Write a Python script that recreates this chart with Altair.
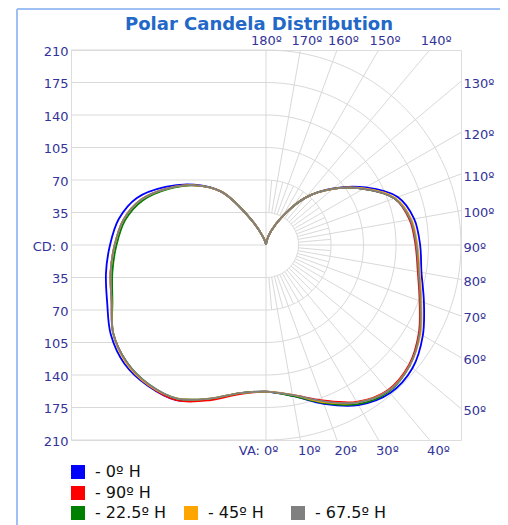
import altair as alt
import numpy as np
import pandas as pd

# ---------------- data ----------------
angles = [0, 10, 20, 30, 40, 50, 60, 70, 80, 90, 100, 110, 120, 130, 140, 150, 160, 170, 180]

series_names = ["- 0º H", "- 90º H", "- 22.5º H", "- 45º H", "- 67.5º H"]
series_colors = ["#0000ff", "#ff0000", "#008000", "#ffa500", "#808080"]

# candela, right half of the plot (vertical angle from nadir)
cd_right_0 = [158, 165, 182, 199, 208, 206, 195, 181, 170, 166, 162, 151, 124, 95, 67, 36, 16, 5, 0]
cd_right_90 = [158, 164, 178, 195, 204, 201, 190, 176, 166, 161, 157, 147, 121, 94, 67, 36, 16, 5, 0]
cd_right_22 = [158, 165, 181, 198, 206, 202, 191, 177, 167, 162, 158, 147, 121, 94, 67, 36, 16, 5, 0]
cd_right_45 = [158, 164, 180, 196, 205, 202, 192, 178, 168, 163, 159, 148, 122, 94, 67, 36, 16, 5, 0]
cd_right_67 = [158, 164, 179, 196, 205, 202, 191, 177, 167, 162, 158, 147, 121, 94, 67, 36, 16, 5, 0]

# candela, left half of the plot (opposite plane)
cd_left_0 = [158, 162, 177, 193, 198, 199, 193, 182, 175, 168, 161, 148, 125, 101, 75, 31, 9, 2, 0]
cd_left_90 = [158, 163, 178, 193, 197, 196, 190, 177, 170, 163, 156, 143, 122, 100, 75, 31, 9, 2, 0]
cd_left_22 = [158, 162, 176, 191, 196, 196, 190, 176, 168, 161, 154, 141, 121, 100, 75, 31, 9, 2, 0]
cd_left_45 = [158, 162, 176, 191, 197, 197, 190, 177, 170, 163, 156, 143, 122, 100, 75, 31, 9, 2, 0]
cd_left_67 = [158, 162, 176, 191, 196, 196, 190, 177, 170, 163, 156, 143, 122, 100, 75, 31, 9, 2, 0]

cd_right = [cd_right_0, cd_right_90, cd_right_22, cd_right_45, cd_right_67]
cd_left = [cd_left_0, cd_left_90, cd_left_22, cd_left_45, cd_left_67]

cd_ticks = [-210, -175, -140, -105, -70, -35, 0, 35, 70, 105, 140, 175, 210]
ring_cd = [35, 70, 105, 140, 175, 210]
spoke_major = list(range(10, 180, 10))
spoke_minor = list(range(5, 180, 10))
va_ticks = [0, 10, 20, 30, 40]
side_ticks = [130, 120, 110, 100, 90, 80, 70, 60, 50]
RMAX = 210

# ---------------- tables built from the arrays ----------------
def curve_df(k):
    rows = []
    i = 0
    for a, r in reversed(list(zip(angles, cd_left[k]))):
        t = np.radians(a)
        rows.append({"series": series_names[k], "i": i, "x": -r * np.sin(t), "y": -r * np.cos(t)})
        i += 1
    for a, r in list(zip(angles, cd_right[k]))[1:]:
        t = np.radians(a)
        rows.append({"series": series_names[k], "i": i, "x": r * np.sin(t), "y": -r * np.cos(t)})
        i += 1
    return pd.DataFrame(rows)

ring_rows = []
for r in ring_cd:
    for a in range(0, 181, 2):
        t = np.radians(a)
        ring_rows.append({"ring": r, "a": a, "x": r * np.sin(t), "y": -r * np.cos(t)})
rings = pd.DataFrame(ring_rows)

def spokes(angle_list, r_out_fn):
    rows = []
    for a in angle_list:
        t = np.radians(a)
        r1 = ring_cd[0]
        r2 = r_out_fn(t)
        rows.append({"x": r1 * np.sin(t), "y": -r1 * np.cos(t), "x2": r2 * np.sin(t), "y2": -r2 * np.cos(t)})
    return pd.DataFrame(rows)

spk_major = spokes(spoke_major, lambda t: RMAX / max(abs(np.sin(t)), abs(np.cos(t))))
spk_minor = spokes(spoke_minor, lambda t: ring_cd[1])

hlines = pd.DataFrame({"y": cd_ticks, "x": [-RMAX] * len(cd_ticks), "x2": [0] * len(cd_ticks)})
vline = pd.DataFrame({"x": [0], "y": [-RMAX], "y2": [RMAX]})

va_pos = [float(RMAX * np.tan(np.radians(a))) for a in va_ticks]
side_pos = [float(RMAX * np.tan(np.radians(a - 90))) for a in side_ticks]

# ---------------- styling ----------------
GRID = "#d9d9d9"
LABEL = "#333399"
FONT = "DejaVu Sans"
xs = alt.Scale(domain=[-RMAX, RMAX], nice=False, zero=False)
ys = alt.Scale(domain=[-RMAX, RMAX], nice=False, zero=False)

common_axis = dict(domain=False, ticks=False, grid=False, labelFont=FONT, labelFontSize=13,
                   labelColor=LABEL, title=None)

left_axis = alt.Axis(orient="left", values=cd_ticks, labelPadding=3, labelBaseline="middle",
                     labelOffset=1,
                     labelExpr="datum.value === 0 ? 'CD: 0' : abs(datum.value)", **common_axis)
bottom_axis = alt.Axis(orient="bottom", values=va_pos, labelPadding=4,
                       labelAlign={"condition": {"test": "datum.value === 0", "value": "right"}, "value": "left"},
                       labelOffset={"condition": {"test": "datum.value === 0", "value": 12}, "value": -3},
                       labelExpr="datum.value === 0 ? 'VA: 0º' : round(atan(datum.value/210)*180/PI) + 'º'",
                       **common_axis)
top_axis = alt.Axis(orient="top", values=va_pos, labelPadding=3, labelAlign="center",
                    labelOffset={"condition": {"test": "datum.value === 0", "value": 0}, "value": 6},
                    labelExpr="(180 - round(atan(datum.value/210)*180/PI)) + 'º'", **common_axis)
right_axis = alt.Axis(orient="right", values=side_pos, labelPadding=2, labelBaseline="middle",
                      labelOffset=2,
                      labelExpr="round(90 + atan(datum.value/210)*180/PI) + 'º'", **common_axis)

# ---------------- layers ----------------
hl = alt.Chart(hlines).mark_rule(color=GRID, strokeWidth=1).encode(
    x=alt.X("x:Q", scale=xs, axis=bottom_axis), x2="x2:Q",
    y=alt.Y("y:Q", scale=ys, axis=left_axis))

vl = alt.Chart(vline).mark_rule(color=GRID, strokeWidth=1).encode(
    x=alt.X("x:Q", scale=xs, axis=top_axis),
    y=alt.Y("y:Q", scale=ys, axis=right_axis), y2="y2:Q")

ring_layer = alt.Chart(rings).mark_line(color=GRID, strokeWidth=1).encode(
    x=alt.X("x:Q", scale=xs, axis=None), y=alt.Y("y:Q", scale=ys, axis=None),
    detail="ring:N", order="a:Q")

spk1 = alt.Chart(spk_major).mark_rule(color=GRID, strokeWidth=1).encode(
    x=alt.X("x:Q", scale=xs, axis=None), y=alt.Y("y:Q", scale=ys, axis=None), x2="x2:Q", y2="y2:Q")
spk2 = alt.Chart(spk_minor).mark_rule(color=GRID, strokeWidth=1).encode(
    x=alt.X("x:Q", scale=xs, axis=None), y=alt.Y("y:Q", scale=ys, axis=None), x2="x2:Q", y2="y2:Q")

legend_xy = [(-1, 414), (-1, 435), (-1, 455), (112, 455), (219, 455)]

curve_layers = []
for k in range(len(series_names)):
    col = series_colors[k]
    lx, ly = legend_xy[k]
    leg = alt.Legend(orient="none", legendX=lx, legendY=ly, symbolType="square", symbolSize=196,
                     symbolFillColor=col, symbolStrokeColor=col, symbolStrokeWidth=0,
                     labelFont=FONT, labelFontSize=16, labelColor="#111111", labelOffset=9,
                     padding=0)
    curve_layers.append(
        alt.Chart(curve_df(k)).mark_line(interpolate="catmull-rom", strokeWidth=1.8).encode(
            x=alt.X("x:Q", scale=xs, axis=None), y=alt.Y("y:Q", scale=ys, axis=None),
            order="i:Q",
            color=alt.Color("series:N", title=None,
                            scale=alt.Scale(domain=[series_names[k]], range=[col]), legend=leg)))

BORDER = "#9ec0f5"
frame_df = pd.DataFrame({"k": [0]})
border = alt.layer(
    alt.Chart(frame_df).mark_rule(color=BORDER, strokeWidth=2).encode(
        x=alt.value(-54), y=alt.value(-41), y2=alt.value(480)),
    alt.Chart(frame_df).mark_rule(color=BORDER, strokeWidth=2).encode(
        x=alt.value(432), y=alt.value(-41), y2=alt.value(480)),
    alt.Chart(frame_df).mark_rule(color=BORDER, strokeWidth=2).encode(
        x=alt.value(-54), x2=alt.value(432), y=alt.value(-41)),
)

chart = alt.layer(hl, vl, ring_layer, spk1, spk2, *curve_layers, border).resolve_scale(
    color="independent").resolve_axis(x="independent", y="independent").properties(
    width=390, height=390,
    padding={"left": 63, "top": 42, "right": 39, "bottom": 85},
    autosize=alt.AutoSizeParams(type="none"),
    title=alt.TitleParams("Polar Candela Distribution", font=FONT, fontSize=18, fontWeight="bold",
                          color="#2268c8", anchor="middle", frame="group", dx=-7, dy=42,
                          offset=2, baseline="alphabetic"),
).configure_view(stroke="#d0d0d0", strokeWidth=1.5).configure(background="white")

chart.save("out.html", embed_options={"renderer": "svg", "actions": False})
